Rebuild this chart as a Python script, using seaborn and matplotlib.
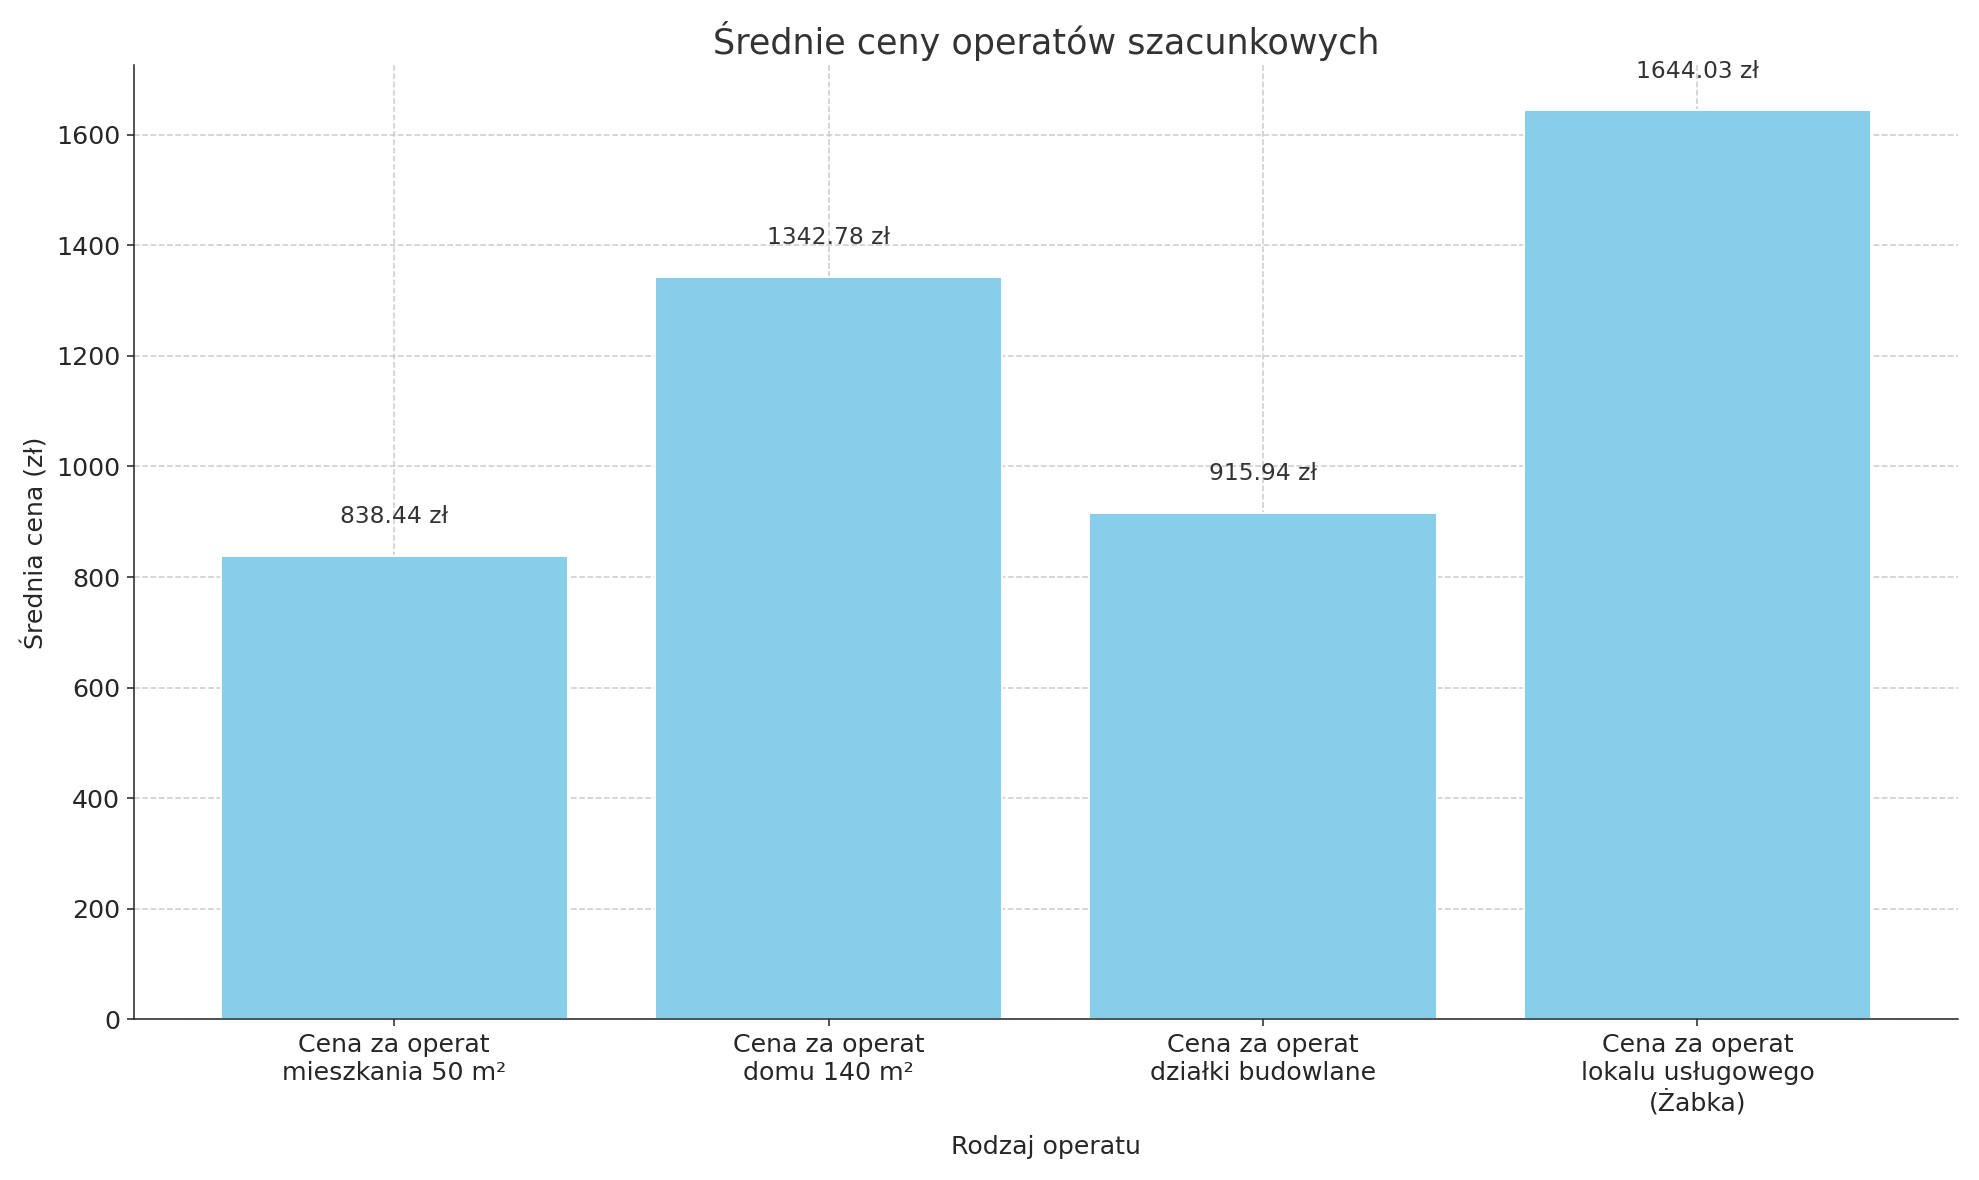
import matplotlib
matplotlib.use("Agg")
import matplotlib.pyplot as plt
import seaborn as sns
import pandas as pd

kategorie = [
    "Cena za operat\nmieszkania 50 m²",
    "Cena za operat\ndomu 140 m²",
    "Cena za operat\ndziałki budowlane",
    "Cena za operat\nlokalu usługowego\n(Żabka)",
]
ceny = [838.44, 1342.78, 915.94, 1644.03]

df = pd.DataFrame({"rodzaj": kategorie, "cena": ceny})

sns.set_style("ticks")
plt.rcParams["font.family"] = ["DejaVu Sans"]

fig, ax = plt.subplots(figsize=(14.136, 8.43), dpi=140)
sns.barplot(data=df, x="rodzaj", y="cena", color="skyblue", saturation=1, width=0.8, ax=ax, zorder=2)
ax.grid(True, linestyle="--", color="#cccccc", linewidth=0.8, zorder=0)
ax.set_axisbelow(True)
for i, c in enumerate(ceny):
    ax.text(i, c + 50, f"{c:.2f} zł", ha="center", va="bottom", fontsize=12, color="#333333")
ax.set_title("Średnie ceny operatów szacunkowych", fontsize=18, color="#333333")
ax.set_xlabel("Rodzaj operatu", fontsize=13, labelpad=10)
ax.set_ylabel("Średnia cena (zł)", fontsize=13)
ax.tick_params(labelsize=13)
ax.set_ylim(0, 1725)
ax.set_xlim(-0.6, 3.6)
sns.despine(ax=ax)
fig.tight_layout()
fig.savefig("out.png")
